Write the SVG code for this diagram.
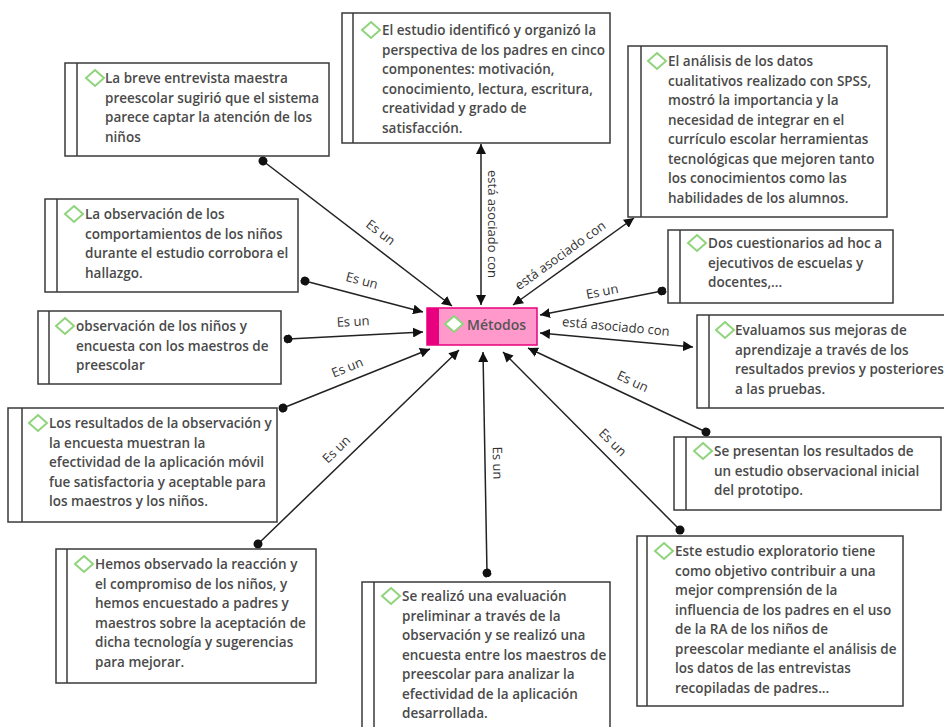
<svg xmlns="http://www.w3.org/2000/svg" width="944" height="727" viewBox="0 0 944 727">
<defs>
<style>
.box{fill:#fff;stroke:#3a3a3a;stroke-width:1.5}
.bar{stroke:#3a3a3a;stroke-width:1.5}
.t{font-family:"Open Sans","Noto Sans",sans-serif;font-size:13.5px;font-weight:600;fill:#4a4a4a}
.lbl{font-family:"Open Sans","Noto Sans",sans-serif;font-size:13px;fill:#333}
.dia{fill:#fff;stroke:#8fd47c;stroke-width:2}
.c{stroke:#222;stroke-width:1.5;fill:none}
</style>
<marker id="arr" viewBox="0 0 10 10" refX="10" refY="5" markerWidth="10" markerHeight="10" markerUnits="userSpaceOnUse" orient="auto-start-reverse"><path d="M0,0 L10,5 L0,10 Z" fill="#111"/></marker>
<marker id="dot" viewBox="0 0 10 10" refX="5" refY="5" markerWidth="9" markerHeight="9" markerUnits="userSpaceOnUse" orient="auto"><circle cx="5" cy="5" r="5" fill="#111"/></marker>
<path id="d" d="M0,-8 L9,0 L0,8 L-9,0 Z"/>
</defs>

<g id="connectors">
<line class="c" x1="263" y1="161" x2="452" y2="306" marker-start="url(#dot)" marker-end="url(#arr)"/>
<line class="c" x1="305" y1="281" x2="423" y2="312" marker-start="url(#dot)" marker-end="url(#arr)"/>
<line class="c" x1="288" y1="339" x2="423" y2="332" marker-start="url(#dot)" marker-end="url(#arr)"/>
<line class="c" x1="283" y1="408" x2="430" y2="349" marker-start="url(#dot)" marker-end="url(#arr)"/>
<line class="c" x1="258" y1="544" x2="459" y2="350" marker-start="url(#dot)" marker-end="url(#arr)"/>
<line class="c" x1="487" y1="573" x2="483" y2="352" marker-start="url(#dot)" marker-end="url(#arr)"/>
<line class="c" x1="680" y1="530" x2="503" y2="352" marker-start="url(#dot)" marker-end="url(#arr)"/>
<line class="c" x1="706" y1="432" x2="528" y2="348" marker-start="url(#dot)" marker-end="url(#arr)"/>
<line class="c" x1="662" y1="291" x2="540" y2="315" marker-start="url(#dot)" marker-end="url(#arr)"/>
<line class="c" x1="540" y1="333" x2="693" y2="347" marker-start="url(#arr)" marker-end="url(#arr)"/>
<line class="c" x1="513" y1="305" x2="634" y2="218" marker-start="url(#arr)" marker-end="url(#arr)"/>
<line class="c" x1="481" y1="305" x2="481" y2="144" marker-start="url(#arr)" marker-end="url(#arr)"/>
<g text-anchor="middle" dominant-baseline="central">
<text class="lbl" transform="translate(381,232) rotate(37.5)">Es un</text>
<text class="lbl" transform="translate(362,280) rotate(14.7)">Es un</text>
<text class="lbl" transform="translate(353,321) rotate(-3)">Es un</text>
<text class="lbl" transform="translate(347,367) rotate(-22)">Es un</text>
<text class="lbl" transform="translate(336,449) rotate(-44)">Es un</text>
<text class="lbl" transform="translate(498,463) rotate(89)">Es un</text>
<text class="lbl" transform="translate(613,442) rotate(45)">Es un</text>
<text class="lbl" transform="translate(633,381) rotate(25)">Es un</text>
<text class="lbl" transform="translate(602,291) rotate(-11)">Es un</text>
<text class="lbl" transform="translate(616,326) rotate(5.2)">está asociado con</text>
<text class="lbl" transform="translate(560,255) rotate(-35.7)">está asociado con</text>
<text class="lbl" transform="translate(493,224) rotate(90)">está asociado con</text>
</g>
</g>

<g id="metodos">
<rect x="427" y="308" width="110" height="37" fill="#ff99cc" stroke="#e8007f" stroke-width="1.5"/>
<rect x="427" y="308" width="12" height="37" fill="#e8007f"/>
<use href="#d" class="dia" x="454" y="324"/>
<text x="467" y="330" font-family="Open Sans,Noto Sans,sans-serif" font-size="14px" font-weight="600" fill="#555">Métodos</text>
</g>

<g id="nA">
<rect class="box" x="65" y="63" width="264" height="93"/><line class="bar" x1="77" y1="63" x2="77" y2="156"/>
<use href="#d" class="dia" x="95" y="78"/>
<text class="t"><tspan x="105" y="83">La breve entrevista maestra</tspan><tspan x="105" y="102.5">preescolar sugirió que el sistema</tspan><tspan x="105" y="122">parece captar la atención de los</tspan><tspan x="105" y="141.5">niños</tspan></text>
</g>

<g id="nB">
<rect class="box" x="342" y="13" width="268" height="130"/><line class="bar" x1="353" y1="13" x2="353" y2="143"/>
<use href="#d" class="dia" x="371" y="30"/>
<text class="t"><tspan x="382" y="35">El estudio identificó y organizó la</tspan><tspan x="382" y="54.5">perspectiva de los padres en cinco</tspan><tspan x="382" y="74">componentes: motivación,</tspan><tspan x="382" y="93.5">conocimiento, lectura, escritura,</tspan><tspan x="382" y="113">creatividad y grado de</tspan><tspan x="382" y="132.5">satisfacción.</tspan></text>
</g>

<g id="nC">
<rect class="box" x="628" y="46" width="259" height="171"/><line class="bar" x1="641" y1="46" x2="641" y2="217"/>
<use href="#d" class="dia" x="657" y="61"/>
<text class="t"><tspan x="668" y="66">El análisis de los datos</tspan><tspan x="668" y="85.5">cualitativos realizado con SPSS,</tspan><tspan x="668" y="105">mostró la importancia y la</tspan><tspan x="668" y="124.5">necesidad de integrar en el</tspan><tspan x="668" y="144">currículo escolar herramientas</tspan><tspan x="668" y="163.5">tecnológicas que mejoren tanto</tspan><tspan x="668" y="183">los conocimientos como las</tspan><tspan x="668" y="202.5">habilidades de los alumnos.</tspan></text>
</g>

<g id="nD">
<rect class="box" x="45" y="199" width="253" height="93"/><line class="bar" x1="57" y1="199" x2="57" y2="292"/>
<use href="#d" class="dia" x="74" y="214"/>
<text class="t"><tspan x="85" y="219">La observación de los</tspan><tspan x="85" y="238.5">comportamientos de los niños</tspan><tspan x="85" y="258">durante el estudio corrobora el</tspan><tspan x="85" y="277.5">hallazgo.</tspan></text>
</g>

<g id="nE">
<rect class="box" x="38" y="311" width="243" height="73"/><line class="bar" x1="49" y1="311" x2="49" y2="384"/>
<use href="#d" class="dia" x="65" y="326"/>
<text class="t"><tspan x="76" y="331">observación de los niños y</tspan><tspan x="76" y="350.5">encuesta con los maestros de</tspan><tspan x="76" y="370">preescolar</tspan></text>
</g>

<g id="nF">
<rect class="box" x="8" y="408" width="269" height="114"/><line class="bar" x1="22" y1="408" x2="22" y2="522"/>
<use href="#d" class="dia" x="38" y="423"/>
<text class="t"><tspan x="49" y="428">Los resultados de la observación y</tspan><tspan x="49" y="447.5">la encuesta muestran la</tspan><tspan x="49" y="467">efectividad de la aplicación móvil</tspan><tspan x="49" y="486.5">fue satisfactoria y aceptable para</tspan><tspan x="49" y="506">los maestros y los niños.</tspan></text>
</g>

<g id="nG">
<rect class="box" x="56" y="549" width="260" height="134"/><line class="bar" x1="67" y1="549" x2="67" y2="683"/>
<use href="#d" class="dia" x="84" y="564"/>
<text class="t"><tspan x="95" y="569">Hemos observado la reacción y</tspan><tspan x="95" y="588.5">el compromiso de los niños, y</tspan><tspan x="95" y="608">hemos encuestado a padres y</tspan><tspan x="95" y="627.5">maestros sobre la aceptación de</tspan><tspan x="95" y="647">dicha tecnología y sugerencias</tspan><tspan x="95" y="666.5">para mejorar.</tspan></text>
</g>

<g id="nH">
<rect class="box" x="362" y="582" width="248" height="160"/><line class="bar" x1="374" y1="582" x2="374" y2="742"/>
<use href="#d" class="dia" x="391" y="596"/>
<text class="t"><tspan x="402" y="601">Se realizó una evaluación</tspan><tspan x="402" y="620.5">preliminar a través de la</tspan><tspan x="402" y="640">observación y se realizó una</tspan><tspan x="402" y="659.5">encuesta entre los maestros de</tspan><tspan x="402" y="679">preescolar para analizar la</tspan><tspan x="402" y="698.5">efectividad de la aplicación</tspan><tspan x="402" y="718">desarrollada.</tspan></text>
</g>

<g id="nI">
<rect class="box" x="637" y="536" width="266" height="170"/><line class="bar" x1="647" y1="536" x2="647" y2="706"/>
<use href="#d" class="dia" x="664" y="551"/>
<text class="t"><tspan x="675" y="556">Este estudio exploratorio tiene</tspan><tspan x="675" y="575.5">como objetivo contribuir a una</tspan><tspan x="675" y="595">mejor comprensión de la</tspan><tspan x="675" y="614.5">influencia de los padres en el uso</tspan><tspan x="675" y="634">de la RA de los niños de</tspan><tspan x="675" y="653.5">preescolar mediante el análisis de</tspan><tspan x="675" y="673">los datos de las entrevistas</tspan><tspan x="675" y="692.5">recopiladas de padres...</tspan></text>
</g>

<g id="nJ">
<rect class="box" x="674" y="437" width="267" height="73"/><line class="bar" x1="686" y1="437" x2="686" y2="510"/>
<use href="#d" class="dia" x="703" y="451"/>
<text class="t"><tspan x="714" y="456">Se presentan los resultados de</tspan><tspan x="714" y="475.5">un estudio observacional inicial</tspan><tspan x="714" y="495">del prototipo.</tspan></text>
</g>

<g id="nK">
<rect class="box" x="668" y="230" width="225" height="73"/><line class="bar" x1="680" y1="230" x2="680" y2="303"/>
<use href="#d" class="dia" x="697" y="243"/>
<text class="t"><tspan x="708" y="248">Dos cuestionarios ad hoc a</tspan><tspan x="708" y="267.5">ejecutivos de escuelas y</tspan><tspan x="708" y="287">docentes,...</tspan></text>
</g>

<g id="nL">
<rect class="box" x="697" y="315" width="260" height="93"/><line class="bar" x1="709" y1="315" x2="709" y2="408"/>
<use href="#d" class="dia" x="725" y="330"/>
<text class="t"><tspan x="735" y="335">Evaluamos sus mejoras de</tspan><tspan x="735" y="354.5">aprendizaje a través de los</tspan><tspan x="735" y="374">resultados previos  y posteriores</tspan><tspan x="735" y="393.5">a las pruebas.</tspan></text>
</g>
</svg>
